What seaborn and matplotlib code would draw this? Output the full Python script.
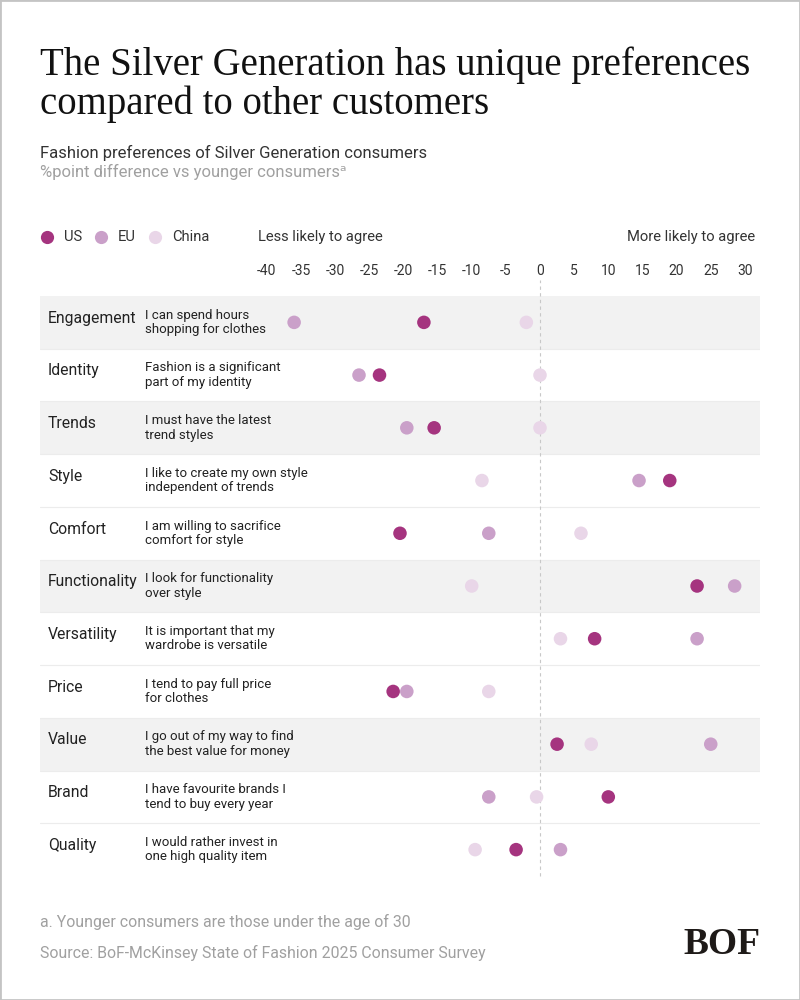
import pandas as pd
import numpy as np
import matplotlib
matplotlib.use("Agg")
import matplotlib.pyplot as plt
import seaborn as sns
from matplotlib import font_manager
from matplotlib.lines import Line2D
from matplotlib.patches import Rectangle

categories = ["Engagement", "Identity", "Trends", "Style", "Comfort", "Functionality",
              "Versatility", "Price", "Value", "Brand", "Quality"]
statements = [
    "I can spend hours\nshopping for clothes",
    "Fashion is a significant\npart of my identity",
    "I must have the latest\ntrend styles",
    "I like to create my own style\nindependent of trends",
    "I am willing to sacrifice\ncomfort for style",
    "I look for functionality\nover style",
    "It is important that my\nwardrobe is versatile",
    "I tend to pay full price\nfor clothes",
    "I go out of my way to find\nthe best value for money",
    "I have favourite brands I\ntend to buy every year",
    "I would rather invest in\none high quality item",
]
us = [-17, -23.5, -15.5, 19, -20.5, 23, 8, -21.5, 2.5, 10, -3.5]
eu = [-36, -26.5, -19.5, 14.5, -7.5, 28.5, 23, -19.5, 25, -7.5, 3]
china = [-2, 0, 0, -8.5, 6, -10, 3, -7.5, 7.5, -0.5, -9.5]
regions = ["US", "EU", "China"]
ticks = list(range(-40, 31, 5))
shaded_rows = ["Engagement", "Trends", "Functionality", "Value"]

palette = {"US": "#a5347f", "EU": "#caa0c9", "China": "#e9d6e8"}

sns.set_theme(style="white")
names = {f.name for f in font_manager.fontManager.ttflist}
sans = next(n for n in ["Liberation Sans Narrow", "Roboto", "DejaVu Sans"] if n in names)
serif = next(n for n in ["Liberation Serif", "DejaVu Serif"] if n in names)
plt.rcParams["font.family"] = [sans, "DejaVu Sans"]

rows = []
for reg, vals in zip(regions, [us, eu, china]):
    for i, v in enumerate(vals):
        rows.append({"region": reg, "row": i, "value": v})
df = pd.DataFrame(rows)


def fx(px):
    return px / 800


def fy(py):
    return 1 - py / 1000


fig = plt.figure(figsize=(8, 10), dpi=100)
fig.patch.set_facecolor("white")
ax = fig.add_axes([fx(40), fy(876), 0.9, (876 - 296) / 1000])

n = len(categories)
for i, c in enumerate(categories):
    if c in shaded_rows:
        ax.axhspan(i - 0.5, i + 0.5, color="#f2f2f2", zorder=0, lw=0)
for i in range(1, n):
    ax.axhline(i - 0.5, color="#ececec", lw=0.8, zorder=0.5)

ax.axvline(0, ymin=0, ymax=1 + 16 / 580, color="#c8c8c8", lw=0.8,
           ls=(0, (3, 3)), zorder=1, clip_on=False)

sns.scatterplot(data=df, x="value", y="row", hue="region", palette=palette,
                s=95, linewidth=0, legend=False, ax=ax, zorder=3)

ax.set_xlim((40 - 540) / 6.83, (760 - 540) / 6.83)
ax.set_ylim(n - 0.5, -0.5)
ax.set_yticks([])
ax.xaxis.tick_top()
ax.set_xticks(ticks)
ax.set_xticklabels([str(t) for t in ticks])
ax.tick_params(axis="x", length=0, pad=13, labelsize=10, labelcolor="#333333")
ax.set_xlabel("")
ax.set_ylabel("")
for s in ax.spines.values():
    s.set_visible(False)

tr = ax.get_yaxis_transform()
for i, (c, st) in enumerate(zip(categories, statements)):
    ax.text(8 / 720, i - 0.08, c, transform=tr, ha="left", va="center",
            fontsize=11.3, color="#222222")
    ax.text(105 / 720, i, st, transform=tr, ha="left", va="center",
            fontsize=9.5, color="#222222", linespacing=1.15)

# title block
fig.text(fx(40), fy(75), "The Silver Generation has unique preferences",
         family=serif, fontsize=27.9, color="#111111", va="baseline")
fig.text(fx(40), fy(114), "compared to other customers",
         family=serif, fontsize=27.9, color="#111111", va="baseline")
fig.text(fx(40), fy(153), "Fashion preferences of Silver Generation consumers",
         fontsize=12, color="#333333", va="center")
fig.text(fx(40), fy(172), "%point difference vs younger consumers\u1d43",
         fontsize=12, color="#a0a0a0", va="center")

# legend
for reg, xm in zip(regions, [47, 101, 155]):
    fig.add_artist(Line2D([fx(xm)], [fy(237)], marker="o", ms=9.5, ls="none",
                          mfc=palette[reg], mec="none", transform=fig.transFigure))
    fig.text(fx(xm + 17), fy(237), reg, fontsize=10.6, color="#333333", va="center")
fig.text(fx(258), fy(237), "Less likely to agree", fontsize=10.6, color="#333333", va="center")
fig.text(fx(755), fy(237), "More likely to agree", fontsize=10.6, color="#333333",
         va="center", ha="right")

# footer
fig.text(fx(40), fy(922), "a. Younger consumers are those under the age of 30",
         fontsize=11.4, color="#a0a0a0", va="center")
fig.text(fx(40), fy(953), "Source: BoF-McKinsey State of Fashion 2025 Consumer Survey",
         fontsize=11.4, color="#a0a0a0", va="center")
fig.text(fx(760), fy(944), "BOF", family=serif, fontsize=27, fontweight="bold",
         color="#1e1a18", ha="right", va="center")

fig.patches.append(Rectangle((0, 0), 1, 1, transform=fig.transFigure, fill=False,
                             ec="#c4c4c4", lw=2))

fig.savefig("out.png", dpi=100, facecolor="white")
